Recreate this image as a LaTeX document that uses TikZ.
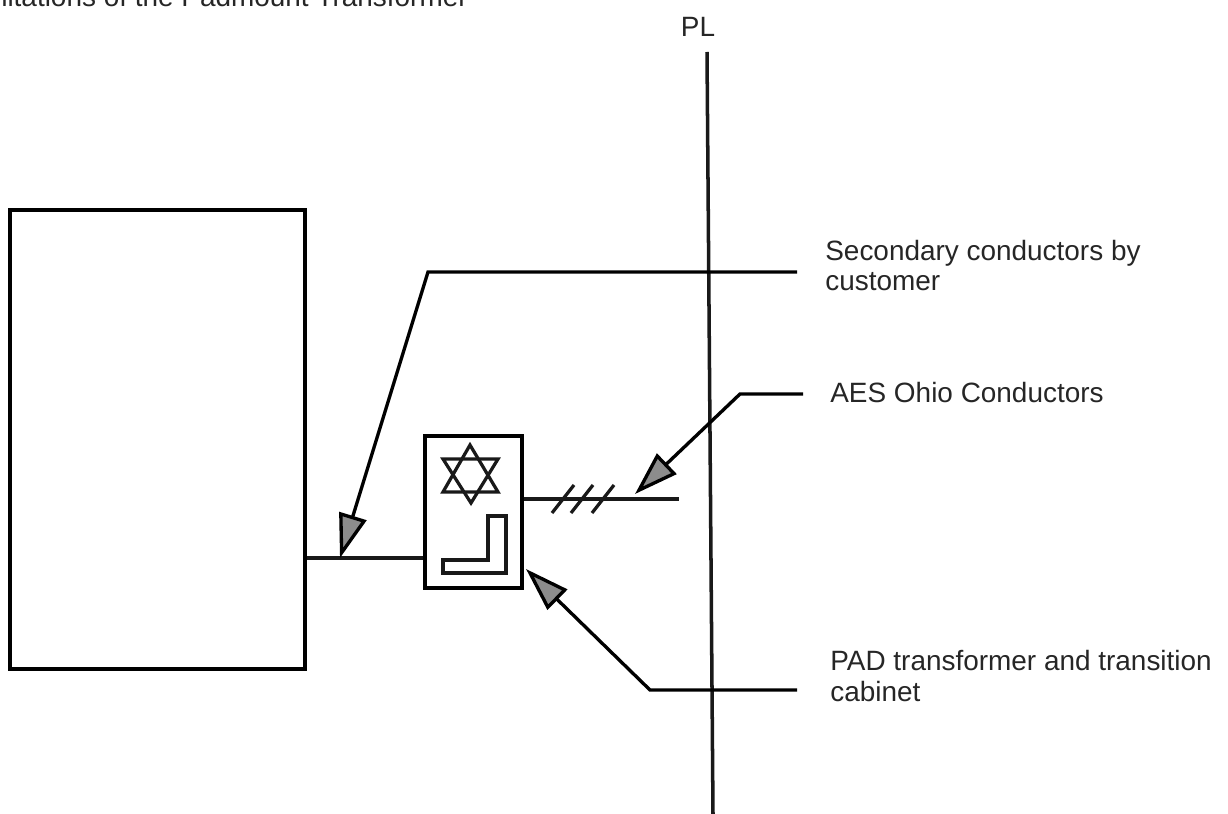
\documentclass[tikz,border=0pt]{standalone}
\usepackage{fontspec}
\setmainfont{Liberation Sans}
\usetikzlibrary{arrows.meta, positioning}

\begin{document}
\begin{tikzpicture}[
    x=0.02cm, y=-0.02cm,
    box/.style={rectangle, draw=black, fill=white, line width=1.9pt, inner sep=0pt},
    lbl/.style={align=left, font=\fontsize{15.9pt}{17.6pt}\selectfont, inner sep=0pt, text=black!85},
    wire/.style={line width=2pt, draw=black!90},
    thin wire/.style={line width=1.85pt, draw=black!90},
    arrow/.style={-{Triangle[length=0.88cm, width=0.56cm, fill=black!45]}, line width=1.9pt, draw=black, line join=miter}
]
\useasboundingbox (0,0) rectangle (1228,814);

% Title and property line
\node[lbl, anchor=base east] (title) at (468,6.5) {Limitations of the Padmount Transformer};
\node[lbl] (pl) at (698,27) {PL};
\coordinate (pltop) at (707,52);
\coordinate (plbot) at (713,814);
\draw[wire] (pltop) -- (plbot);

% Building and cabinet
\node[box, minimum width=5.9cm, minimum height=9.18cm] (building) at (157.5,439.5) {};
\node[box, minimum width=1.94cm, minimum height=3.04cm] (cabinet) at (473.5,512) {};
\draw[wire] (building.east |- 0,558) -- (cabinet.west |- 0,558);

% Transformer symbol
\draw[thin wire, line join=miter] (470,445) -- (443,492) -- (498,492) -- cycle;
\draw[thin wire, line join=miter] (471,503) -- (443,459) -- (498,459) -- cycle;
\draw[thin wire] (488,516) -- (506,516) -- (506,573) -- (443,573) -- (443,560) -- (488,560) -- cycle;

% Service conductors
\coordinate (svcend) at (679,499);
\draw[wire] (cabinet.east |- svcend) -- (svcend);
\foreach \tickx in {552,571,592} {
    \draw[thin wire] (\tickx,513) -- ++(22,-28);
}

% Labels
\node[lbl, anchor=west] (seclabel) at (825,265.5) {Secondary conductors by\\customer};
\node[lbl, anchor=west] (aeslabel) at (830,393) {AES Ohio Conductors};
\node[lbl, anchor=west] (padlabel) at (830,676) {PAD transformer and transition\\cabinet};

% Leaders (Right side)
\coordinate (secstart) at (797,272);
\coordinate (aesstart) at (803,394);
\coordinate (padstart) at (797,690);
\draw[arrow] (secstart) -- (428,272) -- (340,558);
\draw[arrow] (aesstart) -- (740,394) -- (635,494);
\draw[arrow] (padstart) -- (650,690) -- (526,569);

\end{tikzpicture}
\end{document}
